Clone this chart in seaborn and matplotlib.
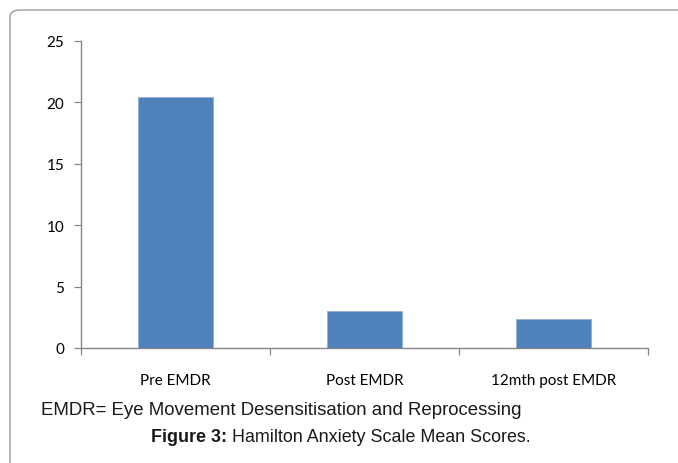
import matplotlib
matplotlib.use("Agg")
import matplotlib.pyplot as plt
from matplotlib.patches import FancyBboxPatch
from matplotlib.ticker import FixedLocator
import seaborn as sns
import pandas as pd

# Hamilton Anxiety Scale mean scores at each time point
stages = ["Pre EMDR", "Post EMDR", "12mth post EMDR"]
mean_scores = [20.4, 3.0, 2.4]
y_ticks = [0, 5, 10, 15, 20, 25]

df = pd.DataFrame({"stage": stages, "score": mean_scores})

sns.set_theme(style="white")
plt.rcParams["font.family"] = ["Lato", "DejaVu Sans"]

W, H = 678, 464
fig = plt.figure(figsize=(W / 100, H / 100), dpi=100)
ax = fig.add_axes([81 / W, 1 - 349 / H, (648 - 81) / W, (349 - 42) / H])

sns.barplot(data=df, x="stage", y="score", color="#4F81BD", width=0.4,
            saturation=1, edgecolor="#8FB0DA", linewidth=0.6, ax=ax)

axis_grey = "#868686"
ax.set_xlim(-0.5, len(stages) - 0.5)
ax.set_ylim(0, 25)
ax.set_yticks(y_ticks)
ax.set_yticklabels([str(t) for t in y_ticks], fontsize=11, color="#000000")
ax.set_xticks(range(len(stages)))
ax.set_xticklabels(stages, fontsize=11, color="#000000")
ax.xaxis.set_minor_locator(FixedLocator([i - 0.5 for i in range(len(stages) + 1)]))
ax.tick_params(axis="x", which="major", bottom=False, length=0, pad=18)
ax.tick_params(axis="x", which="minor", bottom=True, length=5, width=0.9,
               color=axis_grey, direction="out")
ax.tick_params(axis="y", left=True, length=5, width=0.9, color=axis_grey,
               direction="out", pad=7)
ax.set_xlabel("")
ax.set_ylabel("")
for side in ["top", "right"]:
    ax.spines[side].set_visible(False)
for side in ["left", "bottom"]:
    ax.spines[side].set_color(axis_grey)
    ax.spines[side].set_linewidth(1.0)

# Rounded panel frame
frame = FancyBboxPatch((10 / W, -0.2), 1.2, 1.2 - 11 / H,
                       boxstyle="round,pad=0,rounding_size=0.015",
                       transform=fig.transFigure, facecolor="none",
                       edgecolor="#9a9a9a", linewidth=1.0, zorder=0)
fig.patches.append(frame)

cap_font = ["Liberation Sans", "DejaVu Sans"]
cap_color = "#1a1a1a"
fig.text(41 / W, 1 - 411 / H, "EMDR= Eye Movement Desensitisation and Reprocessing",
         ha="left", va="center", fontsize=13.4, family=cap_font, color=cap_color)

# Caption line: bold label followed by regular title, centred as a whole
renderer = fig.canvas.get_renderer()
bold = fig.text(0, 1 - 438 / H, "Figure 3:", ha="left", va="center",
                fontsize=12.9, fontweight="bold", family=cap_font, color=cap_color)
rest = fig.text(0, 1 - 438 / H, " Hamilton Anxiety Scale Mean Scores.", ha="left",
                va="center", fontsize=12.9, family=cap_font, color=cap_color)
wb = bold.get_window_extent(renderer).width
wr = rest.get_window_extent(renderer).width
start = 341 - (wb + wr) / 2
bold.set_x(start / W)
rest.set_x((start + wb) / W)

fig.savefig("out.png", dpi=100)
